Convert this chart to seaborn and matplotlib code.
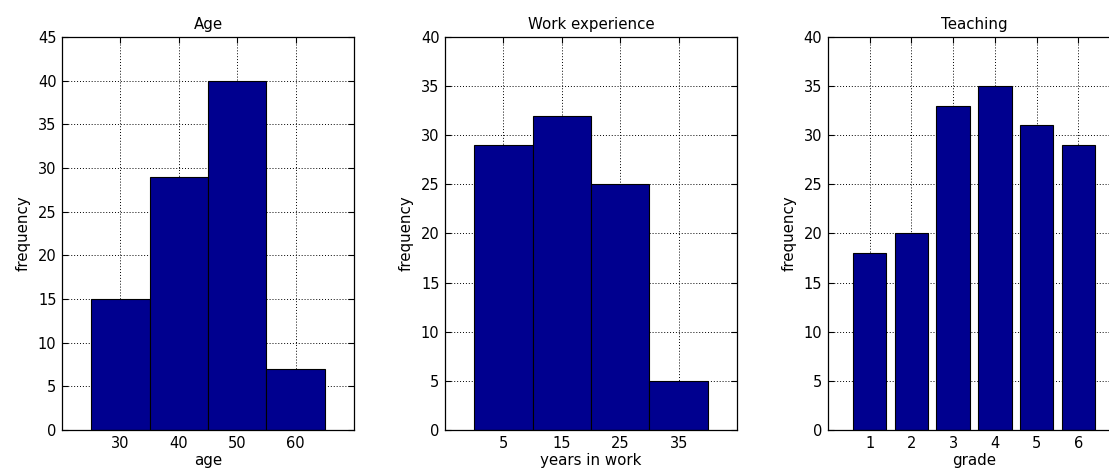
import numpy as np
import matplotlib
matplotlib.use("Agg")
import matplotlib.pyplot as plt
import seaborn as sns

sns.set_style("white")
plt.rcParams["font.family"] = ["DejaVu Sans"]
plt.rcParams.update({
    "text.color": "black",
    "axes.labelcolor": "black",
    "xtick.color": "black",
    "ytick.color": "black",
})

# Age histogram
age_edges = [25, 35, 45, 55, 65]
age_centers = [30, 40, 50, 60]
age_counts = [15, 29, 40, 7]

# Work experience histogram
work_edges = [0, 10, 20, 30, 40]
work_centers = [5, 15, 25, 35]
work_counts = [29, 32, 25, 5]

# Teaching grades
grades = [1, 2, 3, 4, 5, 6]
grade_counts = [18, 20, 33, 35, 31, 29]

BAR = "#00008F"

fig = plt.figure(figsize=(11.09, 4.72), dpi=100)
bottom, height = 0.089, 0.8326
width = 0.2633
ax1 = fig.add_axes([0.0559, bottom, width, height])
ax2 = fig.add_axes([0.4013, bottom, width, height])
ax3 = fig.add_axes([0.7466, bottom, width, height])

sns.histplot(x=age_centers, weights=age_counts, bins=age_edges, ax=ax1,
             color=BAR, alpha=1, edgecolor="black", linewidth=0.8)
sns.histplot(x=work_centers, weights=work_counts, bins=work_edges, ax=ax2,
             color=BAR, alpha=1, edgecolor="black", linewidth=0.8)
sns.barplot(x=grades, y=grade_counts, native_scale=True, width=0.8, ax=ax3,
            color=BAR, saturation=1, edgecolor="black", linewidth=0.8)

def style(ax, title, xlabel, xlim, ylim, xticks, yticks):
    ax.set_xlim(*xlim)
    ax.set_ylim(*ylim)
    ax.set_xticks(xticks)
    ax.set_yticks(yticks)
    ax.set_title(title, fontsize=10.8, pad=6)
    ax.set_xlabel(xlabel, fontsize=10.8, labelpad=2)
    ax.set_ylabel("frequency", fontsize=10.8, labelpad=5)
    ax.set_axisbelow(True)
    ax.grid(True, color="black", linestyle=(0, (1, 2)), linewidth=0.7)
    ax.tick_params(direction="in", length=4, width=0.8, labelsize=10.5,
                   top=True, right=True, bottom=True, left=True, pad=4)
    for s in ax.spines.values():
        s.set_visible(True)
        s.set_color("black")
        s.set_linewidth(0.9)

style(ax1, "Age", "age", (20, 70), (0, 45), age_centers, range(0, 46, 5))
style(ax2, "Work experience", "years in work", (-5, 45), (0, 40), work_centers, range(0, 41, 5))
style(ax3, "Teaching", "grade", (0, 7), (0, 40), grades, range(0, 41, 5))

fig.savefig("out.png", dpi=100)
